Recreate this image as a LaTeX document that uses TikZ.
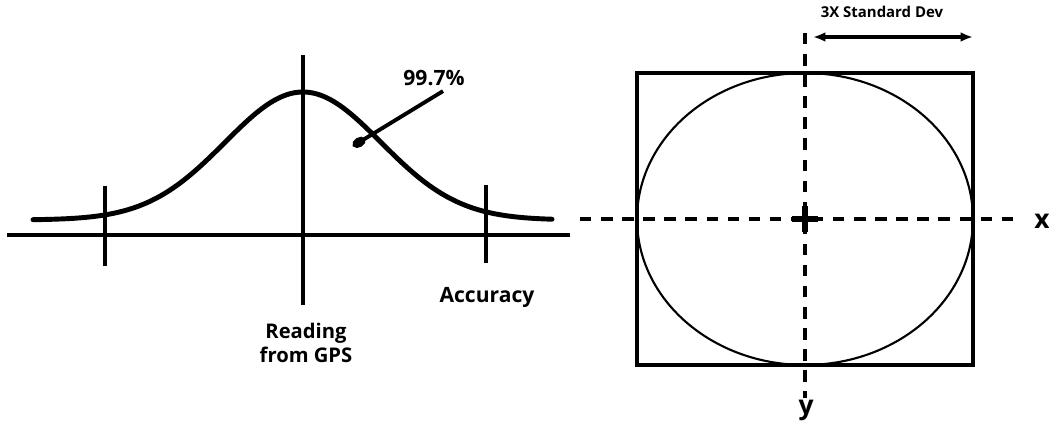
\documentclass[tikz,border=0pt]{standalone}
\usepackage{fontspec}
\setmainfont{Open Sans}
\usetikzlibrary{positioning,arrows.meta}

\begin{document}
\begin{tikzpicture}[x=0.02cm, y=-0.02cm,
  lbl/.style={font=\bfseries\fontsize{12}{14}\selectfont, inner sep=0pt},
  axl/.style={font=\bfseries\fontsize{15}{16}\selectfont, inner sep=0pt},
  small/.style={font=\bfseries\fontsize{8.5}{9}\selectfont, inner sep=0pt},
  curve/.style={line width=2.8pt, line cap=round},
  ax/.style={line width=2.2pt},
  thin/.style={line width=1.2pt},
  box/.style={line width=2.8pt},
  dsh/.style={line width=2.4pt, dash pattern=on 6.5pt off 5.5pt},
  ptr/.style={line width=2.2pt, -{Ellipse[length=8pt,width=5.5pt]}}
]
\useasboundingbox (0,0) rectangle (1049,430);

% --- bell curve side ---
\coordinate (bl) at (7,235);
\coordinate (br) at (570,235);
\coordinate (top) at (303,55);
\coordinate (mid) at (303,305);
\coordinate (lt1) at (105,186);
\coordinate (lt2) at (105,266);
\coordinate (rt1) at (486,185);
\coordinate (rt2) at (486,263);

\draw[ax] (bl)--(br);
\draw[ax, line width=1.8pt] (top)--(mid);
\draw[ax] (lt1)--(lt2);
\draw[ax] (rt1)--(rt2);

\draw[curve] plot[domain=33:552, samples=120, smooth, variable=\t]
  (\t, {220-128*exp(-0.5*((\t-303)/78)^2)});

% labels
\node[lbl] (pct) at (434,78) {99.7\%};
\coordinate (dot) at (353,146);
\draw[ptr] ([xshift=0.18cm, yshift=-0.1cm]pct.south) -- (dot);

\node[lbl] (acc) at (487,297) {Accuracy};
\node[lbl, align=center, font=\bfseries\fontsize{11.5}{14}\selectfont] (gps) at (306,343) {Reading\\from GPS};

% --- error box side ---
\coordinate (c) at (805,219);
\coordinate (sq1) at (637,73);
\coordinate (sq2) at (973,365);

\draw[thin] (c) ellipse [x radius=3.36cm, y radius=2.92cm];
\draw[box] (sq1) rectangle (sq2);

\coordinate (xa) at (580,219);
\coordinate (xb) at (1022,219);
\coordinate (ya) at (805,33);
\coordinate (yb) at (805,398);
\draw[dsh] (xa)--(xb);
\draw[dsh] (ya)--(yb);
\draw[line width=3.4pt] ([xshift=-0.26cm]c)--([xshift=0.26cm]c)
  ([yshift=-0.26cm]c)--([yshift=0.26cm]c);

\node[axl] (xl) at (1042,221) {x};
\node[axl] (yl) at (806,410) {y};

% standard dev arrow
\coordinate (sd1) at (813,37);
\coordinate (sd2) at (973,37);
\draw[line width=2.4pt, {Latex[length=7pt,width=5.5pt]}-{Latex[length=7pt,width=5.5pt]}] (sd1)--(sd2);
\node[small] (sd) at (882,12) {3X Standard Dev};

\end{tikzpicture}
\end{document}
